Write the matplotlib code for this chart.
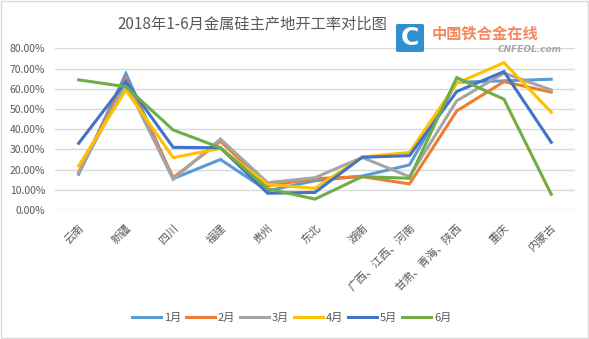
import matplotlib
matplotlib.use("Agg")
import matplotlib.pyplot as plt
from matplotlib.patches import FancyBboxPatch, Rectangle
from matplotlib.ticker import FuncFormatter

plt.rcParams["font.family"] = ["Noto Sans CJK SC", "DejaVu Sans"]

regions = ["云南", "新疆", "四川", "福建", "贵州", "东北", "湖南",
           "广西、江西、河南", "甘肃、青海、陕西", "重庆", "内蒙古"]

# operating rate (%) per region, one list per month
jan = [17.7, 67.5, 15.5, 25.0, 9.5, 14.5, 16.8, 22.3, 63.2, 63.9, 64.7]
feb = [18.5, 64.7, 16.0, 34.0, 12.0, 15.5, 16.5, 12.9, 49.0, 63.5, 58.3]
mar = [18.2, 62.7, 15.2, 35.1, 13.5, 16.0, 26.0, 16.5, 54.0, 67.7, 59.4]
apr = [21.8, 59.4, 25.9, 30.5, 12.7, 10.7, 26.2, 28.5, 62.7, 72.9, 48.4]
may = [33.0, 63.5, 31.0, 30.8, 8.3, 8.7, 26.1, 26.9, 58.6, 68.5, 33.5]
jun = [64.4, 61.0, 39.6, 30.8, 10.5, 5.4, 16.5, 15.7, 65.5, 54.8, 7.8]

months = ["1月", "2月", "3月", "4月", "5月", "6月"]
series = [jan, feb, mar, apr, may, jun]
colors = ["#5B9BD5", "#ED7D31", "#A5A5A5", "#FFC000", "#4472C4", "#70AD47"]

fig = plt.figure(figsize=(5.89, 3.39), dpi=100)
ax = fig.add_axes([0.0934, 0.3805, 0.8826, 0.477])

x = range(len(regions))
for name, vals, c in zip(months, series, colors):
    ax.plot(x, [v / 100 for v in vals], color=c, lw=2.2, label=name,
            solid_joinstyle="miter")

ax.set_xlim(-0.5, len(regions) - 0.5)
ax.set_ylim(0, 0.8)
ax.set_yticks([i / 10 for i in range(9)])
ax.yaxis.set_major_formatter(FuncFormatter(lambda v, _: f"{v * 100:.2f}%"))
ax.grid(axis="y", color="#D9D9D9", lw=1)
ax.set_axisbelow(True)
for s in ax.spines.values():
    s.set_visible(False)
ax.tick_params(axis="both", length=0, colors="#595959", labelsize=7.5)
ax.tick_params(axis="y", pad=7)

ax.set_xticks(list(x))
ax.set_xticklabels(regions, rotation=45, ha="right", rotation_mode="anchor",
                   fontsize=8, color="#595959")
ax.tick_params(axis="x", pad=9)

fig.text(0.428, 0.929, "2018年1-6月金属硅主产地开工率对比图", ha="center",
         va="center", fontsize=11, color="#595959")

# site logo in the upper right
logo = FancyBboxPatch((396 / 589, 1 - 52 / 339), 28 / 589, 28 / 339,
                      boxstyle="round,pad=0,rounding_size=0.004",
                      transform=fig.transFigure, facecolor="#2F8FCF",
                      edgecolor="none")
fig.patches.append(logo)
fig.text(410 / 589, 1 - 38 / 339, "C", ha="center", va="center",
         fontsize=18, fontweight="bold", color="white", family="DejaVu Sans")
fig.text(432 / 589, 1 - 34 / 339, "中国铁合金在线", ha="left", va="center",
         fontsize=11, fontweight="bold", color="#F4895F")
fig.text(562 / 589, 1 - 49 / 339, "CNFEOL.com", ha="right", va="center",
         fontsize=6.5, fontweight="bold", fontstyle="italic", color="#A6A6A6",
         family="DejaVu Sans")

fig.legend(loc="center", bbox_to_anchor=(0.495, 0.062), ncol=6, frameon=False,
           fontsize=8, handlelength=2.6, handletextpad=0.3,
           columnspacing=0.4, labelcolor="#595959")

border = Rectangle((0.001, 0.0015), 0.997, 0.996, transform=fig.transFigure,
                   fill=False, edgecolor="#D9D9D9", lw=1)
fig.patches.append(border)

fig.savefig("out.png", dpi=100)
